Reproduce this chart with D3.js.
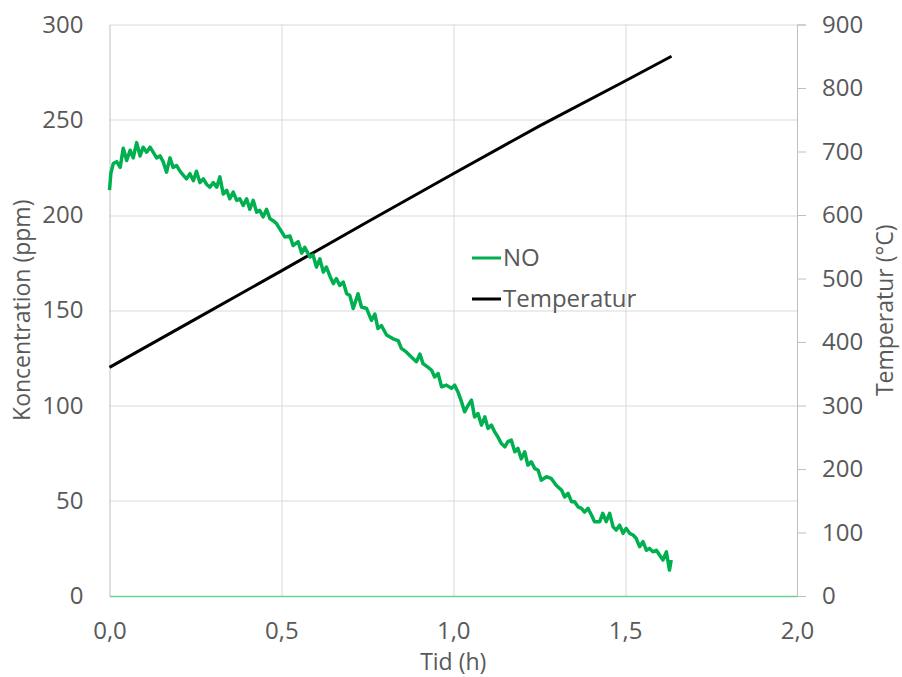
<!DOCTYPE html>
<html>
<head>
<meta charset="utf-8">
<script src="https://cdn.jsdelivr.net/npm/d3@7"></script>
<style>
  html, body { margin: 0; padding: 0; background: #fff; }
  svg { display: block; font-family: "Open Sans", sans-serif; }
</style>
</head>
<body>
<svg id="chart" width="902" height="677"></svg>
<script>
// NO concentration (ppm) vs time (h)
const noTime = [
  0.000, 0.004, 0.011, 0.021, 0.031, 0.040, 0.050, 0.060, 0.069, 0.079,
  0.089, 0.098, 0.108, 0.118, 0.127, 0.137, 0.147, 0.156, 0.166, 0.176,
  0.185, 0.195, 0.205, 0.215, 0.224, 0.234, 0.244, 0.253, 0.263, 0.273,
  0.283, 0.292, 0.302, 0.312, 0.321, 0.331, 0.341, 0.350, 0.360, 0.370,
  0.379, 0.389, 0.399, 0.408, 0.418, 0.428, 0.437, 0.447, 0.457, 0.467,
  0.476, 0.486, 0.496, 0.505, 0.510, 0.525, 0.534, 0.549, 0.559, 0.568,
  0.583, 0.592, 0.602, 0.612, 0.622, 0.631, 0.641, 0.651, 0.660, 0.670,
  0.680, 0.690, 0.699, 0.709, 0.723, 0.733, 0.748, 0.762, 0.772, 0.781,
  0.791, 0.806, 0.825, 0.840, 0.849, 0.864, 0.878, 0.893, 0.903, 0.912,
  0.927, 0.937, 0.946, 0.956, 0.966, 0.980, 0.995, 1.004, 1.014, 1.024,
  1.033, 1.043, 1.053, 1.062, 1.072, 1.082, 1.092, 1.101, 1.111, 1.121,
  1.130, 1.140, 1.150, 1.159, 1.169, 1.179, 1.188, 1.198, 1.208, 1.217,
  1.227, 1.237, 1.247, 1.256, 1.271, 1.285, 1.300, 1.315, 1.324, 1.334,
  1.344, 1.353, 1.363, 1.373, 1.382, 1.392, 1.402, 1.411, 1.426, 1.435,
  1.445, 1.455, 1.465, 1.474, 1.484, 1.494, 1.503, 1.513, 1.523, 1.532,
  1.542, 1.552, 1.562, 1.571, 1.581, 1.591, 1.600, 1.610, 1.620, 1.629,
  1.634
];
const noValues = [
  213, 222, 227, 228, 225, 235, 228.6, 234, 230, 238,
  231, 235.6, 233, 235.6, 233, 230, 231, 228, 222.5, 230,
  225, 226, 223, 220.8, 219, 221.7, 218, 223, 217, 219,
  216, 214.6, 217, 214.6, 220, 211, 213, 208.5, 212, 207.7,
  208.5, 205, 208.5, 203, 207.7, 201.5, 202.4, 199, 203, 198,
  197, 195.5, 192.5, 190, 188.5, 189, 184, 186, 180, 183,
  178, 179, 172.7, 177, 170, 172.7, 168, 164, 166.6, 163,
  164.8, 158.7, 157.8, 150.9, 158.7, 151.7, 150.9, 144.7, 148, 140.4,
  142, 137, 135, 134, 130, 128, 125.5, 123, 127, 122,
  120, 118.5, 115, 116.8, 109.8, 110.7, 109, 110.7, 107, 102,
  96.7, 100, 102.8, 94, 95.8, 89.7, 94, 88, 89.7, 86,
  83.5, 80, 78.3, 81, 81.8, 75.7, 77.5, 72, 75.7, 68.7,
  70.4, 67, 66, 60.8, 62.6, 61.7, 58, 55.6, 52, 53.9,
  49.5, 49.5, 46.8, 46, 44, 46, 42.5, 39, 39, 43.4,
  39, 43.4, 36.3, 34.6, 37.2, 32.9, 35.5, 32.9, 32, 30.3,
  25.9, 28.5, 24, 25, 23.2, 24, 21.5, 18.9, 23.2, 13.6,
  18.9
];

// Temperature (°C) vs time (h)
const tempTime = [0.000, 0.25, 0.50, 0.75, 1.00, 1.25, 1.50, 1.635];
const tempValues = [360, 436, 512, 589, 665, 740, 811, 850];

const xTicks = [0, 0.5, 1.0, 1.5, 2.0];
const yLeftTicks = [0, 50, 100, 150, 200, 250, 300];
const yRightTicks = [0, 100, 200, 300, 400, 500, 600, 700, 800, 900];

const seriesNames = ["NO", "Temperatur"];
const seriesColors = ["#00b050", "#000000"];

const width = 902, height = 677;
const margin = { top: 24.5, right: 105, bottom: 81, left: 109.5 };
const innerW = width - margin.left - margin.right;
const innerH = height - margin.top - margin.bottom;

const svg = d3.select("#chart")
  .attr("viewBox", [0, 0, width, height]);

const g = svg.append("g")
  .attr("transform", `translate(${margin.left},${margin.top})`);

const x = d3.scaleLinear().domain([0, 2]).range([0, innerW]);
const yL = d3.scaleLinear().domain([0, 300]).range([innerH, 0]);
const yR = d3.scaleLinear().domain([0, 900]).range([innerH, 0]);

const fmtX = v => d3.format(".1f")(v).replace(".", ",");
const labelColor = "#595959";
const gridColor = "#d9d9d9";

// gridlines
g.append("g")
  .selectAll("line.hgrid")
  .data(yLeftTicks.filter(d => d > 0))
  .join("line")
  .attr("class", "hgrid")
  .attr("x1", 0).attr("x2", innerW)
  .attr("y1", d => Math.round(yL(d)) + 0.5)
  .attr("y2", d => Math.round(yL(d)) + 0.5)
  .attr("stroke", gridColor);

g.append("g")
  .selectAll("line.vgrid")
  .data(xTicks.filter(d => d > 0 && d < 2))
  .join("line")
  .attr("class", "vgrid")
  .attr("x1", d => Math.round(x(d)) + 0.5)
  .attr("x2", d => Math.round(x(d)) + 0.5)
  .attr("y1", 0).attr("y2", innerH)
  .attr("stroke", gridColor);

// left axis
g.append("g")
  .call(d3.axisLeft(yL).tickValues(yLeftTicks).tickSize(0).tickPadding(26))
  .call(a => a.select(".domain").attr("stroke", "#bfbfbf"))
  .call(a => a.selectAll("text")
    .attr("fill", labelColor)
    .style("font-size", "24px")
    .style("font-family", "'Open Sans', sans-serif"));

// right axis
g.append("g")
  .attr("transform", `translate(${innerW},0)`)
  .call(d3.axisRight(yR).tickValues(yRightTicks).tickSize(9).tickSizeOuter(9).tickPadding(16))
  .call(a => a.select(".domain").attr("stroke", "#bfbfbf"))
  .call(a => a.selectAll(".tick line").attr("stroke", "#bfbfbf"))
  .call(a => a.selectAll("text")
    .attr("fill", labelColor)
    .style("font-size", "24px")
    .style("font-family", "'Open Sans', sans-serif"));

// bottom axis
g.append("g")
  .attr("transform", `translate(0,${innerH})`)
  .call(d3.axisBottom(x).tickValues(xTicks).tickFormat(fmtX).tickSize(0).tickPadding(26))
  .call(a => a.select(".domain").attr("stroke", "#6fcf9a").attr("stroke-width", 1.6))
  .call(a => a.selectAll("text")
    .attr("fill", labelColor)
    .style("font-size", "24px")
    .style("font-family", "'Open Sans', sans-serif"));

// axis titles
svg.append("text")
  .attr("transform", `translate(30,${margin.top + innerH / 2}) rotate(-90)`)
  .attr("text-anchor", "middle")
  .attr("fill", labelColor)
  .style("font-size", "23px")
  .text("Koncentration (ppm)");

svg.append("text")
  .attr("transform", `translate(893,${margin.top + innerH / 2}) rotate(-90)`)
  .attr("text-anchor", "middle")
  .attr("fill", labelColor)
  .style("font-size", "23px")
  .text("Temperatur (°C)");

svg.append("text")
  .attr("x", margin.left + innerW / 2)
  .attr("y", 670)
  .attr("text-anchor", "middle")
  .attr("fill", labelColor)
  .style("font-size", "23px")
  .text("Tid (h)");

// series
const noData = noTime.map((t, i) => ({ t, v: noValues[i] }));
const tempData = tempTime.map((t, i) => ({ t, v: tempValues[i] }));

g.append("path")
  .datum(tempData)
  .attr("fill", "none")
  .attr("stroke", seriesColors[1])
  .attr("stroke-width", 3)
  .attr("d", d3.line().x(d => x(d.t)).y(d => yR(d.v)));

g.append("path")
  .datum(noData)
  .attr("fill", "none")
  .attr("stroke", seriesColors[0])
  .attr("stroke-width", 3.5)
  .attr("stroke-linejoin", "round")
  .attr("d", d3.line().x(d => x(d.t)).y(d => yL(d.v)));

// legend
const legend = svg.append("g").attr("transform", "translate(472,258)");
legend.selectAll("g.item")
  .data(seriesNames)
  .join("g")
  .attr("class", "item")
  .attr("transform", (d, i) => `translate(0,${i * 41})`)
  .each(function (d, i) {
    const item = d3.select(this);
    item.append("line")
      .attr("x1", 0).attr("x2", 29)
      .attr("y1", 0).attr("y2", 0)
      .attr("stroke", seriesColors[i])
      .attr("stroke-width", 3);
    item.append("text")
      .attr("x", 31)
      .attr("dy", "0.35em")
      .attr("fill", labelColor)
      .style("font-size", "24px")
      .text(d);
  });
</script>
</body>
</html>
